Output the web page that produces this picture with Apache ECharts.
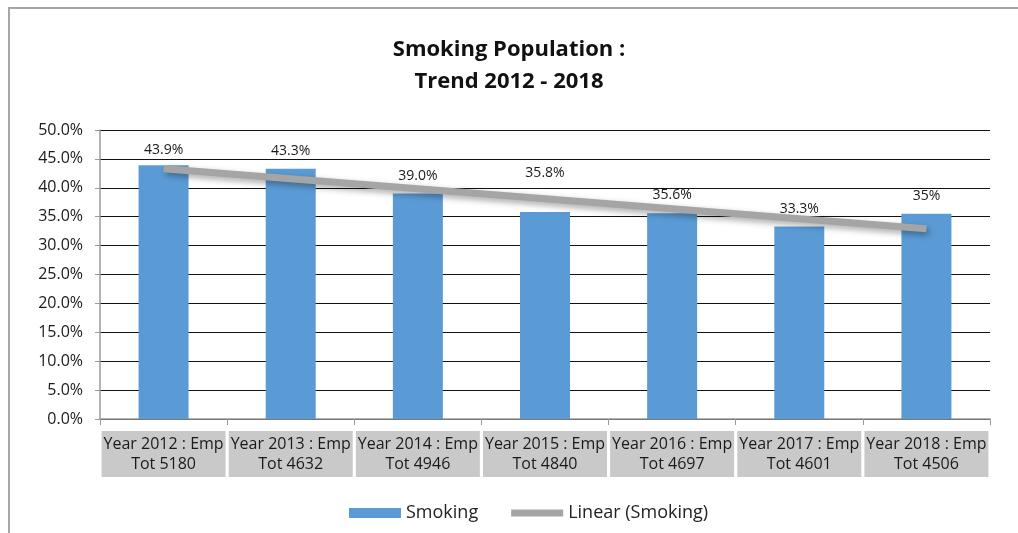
<!DOCTYPE html>
<html>
<head>
<meta charset="utf-8">
<script src="https://cdn.jsdelivr.net/npm/echarts@6/dist/echarts.min.js"></script>
<style>
  html, body { margin: 0; padding: 0; background: #fff; }
  #chart { width: 1018px; height: 533px; }
</style>
</head>
<body>
<div id="chart"></div>
<script>
// data
const years = ['2012', '2013', '2014', '2015', '2016', '2017', '2018']
const empTotals = [5180, 4632, 4946, 4840, 4697, 4601, 4506]
const smoking = [43.9, 43.3, 39.0, 35.8, 35.6, 33.3, 35.5]
const smokingLabels = ['43.9%', '43.3%', '39.0%', '35.8%', '35.6%', '33.3%', '35%']
// Excel linear trendline, ends
const trendStart = 43.3
const trendEnd = 32.9

// extra lift of some data labels (moved by hand in the original)
const labelLift = [-3, 0, 0, 21, 0, 0, 0]

const fontFamily = '"Open Sans", Lato, sans-serif'

const categories = years.map((y, i) => `Year ${y} : Emp\nTot ${empTotals[i]}`)
const trendData = categories.map((c, i) =>
  i === 0 ? trendStart : i === categories.length - 1 ? trendEnd : null
)

const chart = echarts.init(document.getElementById('chart'))

chart.setOption({
  animation: false,
  textStyle: { fontFamily },
  title: {
    text: 'Smoking Population :\nTrend 2012 - 2018',
    left: 'center',
    top: 29,
    textStyle: {
      fontSize: 22,
      fontWeight: 'bold',
      color: '#111',
      lineHeight: 32,
      fontFamily
    }
  },
  graphic: [
    {
      type: 'rect',
      silent: true,
      z: -1,
      shape: { x: 9, y: 8, width: 1100, height: 600 },
      style: { fill: 'none', stroke: '#a6a6a6', lineWidth: 2 }
    }
  ],
  legend: {
    left: 344,
    top: 499,
    itemWidth: 52,
    itemHeight: 10,
    itemGap: 33,
    textStyle: { fontSize: 18, color: '#222', fontFamily },
    data: [
      { name: 'Smoking', icon: 'rect' },
      { name: 'Linear (Smoking)', icon: 'path://M0,0H52V7H0Z' }
    ]
  },
  grid: {
    left: 100,
    right: 28,
    top: 130,
    bottom: 114
  },
  xAxis: {
    type: 'category',
    data: categories,
    axisLine: { lineStyle: { color: '#9a9a9a', width: 1.5 } },
    axisTick: { show: true, length: 6, lineStyle: { color: '#9a9a9a' } },
    axisLabel: {
      interval: 0,
      margin: 12,
      fontSize: 16,
      color: '#1a1a1a',
      lineHeight: 20,
      width: 118,
      overflow: 'none',
      backgroundColor: '#c9c9c9',
      padding: [3, 3, 3, 3],
      fontFamily
    },
    splitLine: { show: false }
  },
  yAxis: {
    type: 'value',
    min: 0,
    max: 50,
    interval: 5,
    axisLine: { show: true, lineStyle: { color: '#9a9a9a', width: 1.5 } },
    axisTick: { show: true, length: 5, lineStyle: { color: '#9a9a9a' } },
    axisLabel: {
      fontSize: 16,
      color: '#1a1a1a',
      margin: 17,
      formatter: (v) => v.toFixed(1) + '%',
      fontFamily
    },
    splitLine: { lineStyle: { color: '#111', width: 1 } }
  },
  series: [
    {
      name: 'Smoking',
      type: 'bar',
      barWidth: 50,
      itemStyle: { color: '#5b9bd5' },
      data: smoking.map((v, i) => ({
        value: v,
        label: { offset: [0, -labelLift[i]] }
      })),
      label: {
        show: true,
        position: 'top',
        distance: 11,
        fontSize: 14,
        color: '#1a1a1a',
        formatter: (p) => smokingLabels[p.dataIndex],
        fontFamily
      },
      z: 2
    },
    {
      name: 'Linear (Smoking)',
      type: 'line',
      data: trendData,
      connectNulls: true,
      symbol: 'none',
      color: '#a5a5a5',
      lineStyle: {
        color: '#a5a5a5',
        width: 7,
        cap: 'butt',
        shadowColor: 'rgba(0,0,0,0.35)',
        shadowBlur: 6,
        shadowOffsetX: 2,
        shadowOffsetY: 3
      },
      z: 3
    }
  ]
})

window.addEventListener('resize', () => chart.resize())
</script>
</body>
</html>
